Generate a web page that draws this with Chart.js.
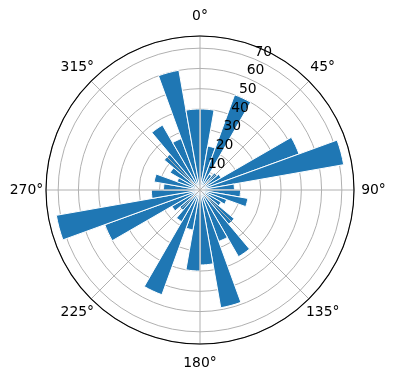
<!DOCTYPE html>
<html>
<head>
<meta charset="utf-8">
<script src="https://cdn.jsdelivr.net/npm/chart.js@4"></script>
<style>
  html, body { margin: 0; padding: 0; background: #fff; }
  #wrap { width: 396px; height: 380px; }
</style>
</head>
<body>
<div id="wrap"><canvas id="rose"></canvas></div>
<script>
// 36 direction bins of 10 degrees, clockwise from north
const binLabels = [
  '0-10°', '10-20°', '20-30°', '30-40°', '40-50°', '50-60°',
  '60-70°', '70-80°', '80-90°', '90-100°', '100-110°', '110-120°',
  '120-130°', '130-140°', '140-150°', '150-160°', '160-170°', '170-180°',
  '180-190°', '190-200°', '200-210°', '210-220°', '220-230°', '230-240°',
  '240-250°', '250-260°', '260-270°', '270-280°', '280-290°', '290-300°',
  '300-310°', '310-320°', '320-330°', '330-340°', '340-350°', '350-360°',
]
const counts = [
  40, 22, 50, 9, 11, 12,
  52, 72, 17, 20, 24, 14,
  12, 22, 38, 27, 59, 37,
  40, 20, 55, 18, 13, 16,
  50, 72, 24, 18, 23, 12,
  17, 23, 37, 27, 60, 40,
]
const rTicks = [10, 20, 30, 40, 50, 60, 70]
const thetaTicks = [0, 45, 90, 135, 180, 225, 270, 315]
const R_MAX = 76
const BLUE = '#1f77b4'

// matplotlib-like spokes, spine and labels, drawn over the bars
const polarFrame = {
  id: 'polarFrame',
  afterDraw(chart) {
    const s = chart.scales.r
    const ctx = chart.ctx
    const cx = s.xCenter
    const cy = s.yCenter
    const R = s.drawingArea
    ctx.save()
    ctx.strokeStyle = '#b0b0b0'
    ctx.lineWidth = 1
    thetaTicks.forEach(t => {
      const a = t * Math.PI / 180
      ctx.beginPath()
      ctx.moveTo(cx, cy)
      ctx.lineTo(cx + R * Math.sin(a), cy - R * Math.cos(a))
      ctx.stroke()
    })
    ctx.strokeStyle = '#000'
    ctx.lineWidth = 1.1
    ctx.beginPath()
    ctx.arc(cx, cy, R, 0, Math.PI * 2)
    ctx.stroke()

    ctx.fillStyle = '#000'
    ctx.font = '13.9px "DejaVu Sans"'
    ctx.textAlign = 'center'
    ctx.textBaseline = 'middle'
    const la = 22.5 * Math.PI / 180
    rTicks.forEach(v => {
      const r = s.getDistanceFromCenterForValue(v)
      ctx.fillText(String(v), cx + r * Math.sin(la) + 9, cy - r * Math.cos(la) - 7)
    })
    const rr = R + 19.5
    thetaTicks.forEach(t => {
      const a = t * Math.PI / 180
      ctx.fillText(t + '°', cx + rr * Math.sin(a), cy - rr * Math.cos(a))
    })
    ctx.restore()
  },
}

const roseChart = new Chart(document.getElementById('rose'), {
  type: 'polarArea',
  data: {
    labels: binLabels,
    datasets: [{
      data: counts,
      backgroundColor: BLUE,
      borderColor: '#fff',
      borderWidth: 1,
    }],
  },
  options: {
    responsive: true,
    maintainAspectRatio: false,
    animation: false,
    layout: { padding: { top: 36, bottom: 36, left: 44, right: 40 } },
    plugins: {
      legend: { display: false },
      tooltip: { enabled: false },
    },
    scales: {
      r: {
        min: 0,
        max: R_MAX,
        startAngle: 0,
        z: 1,
        ticks: { display: false, stepSize: 10 },
        grid: { color: '#b0b0b0', lineWidth: 1, circular: true },
        angleLines: { display: false },
        pointLabels: { display: false },
      },
    },
  },
  plugins: [polarFrame],
})
</script>
</body>
</html>
